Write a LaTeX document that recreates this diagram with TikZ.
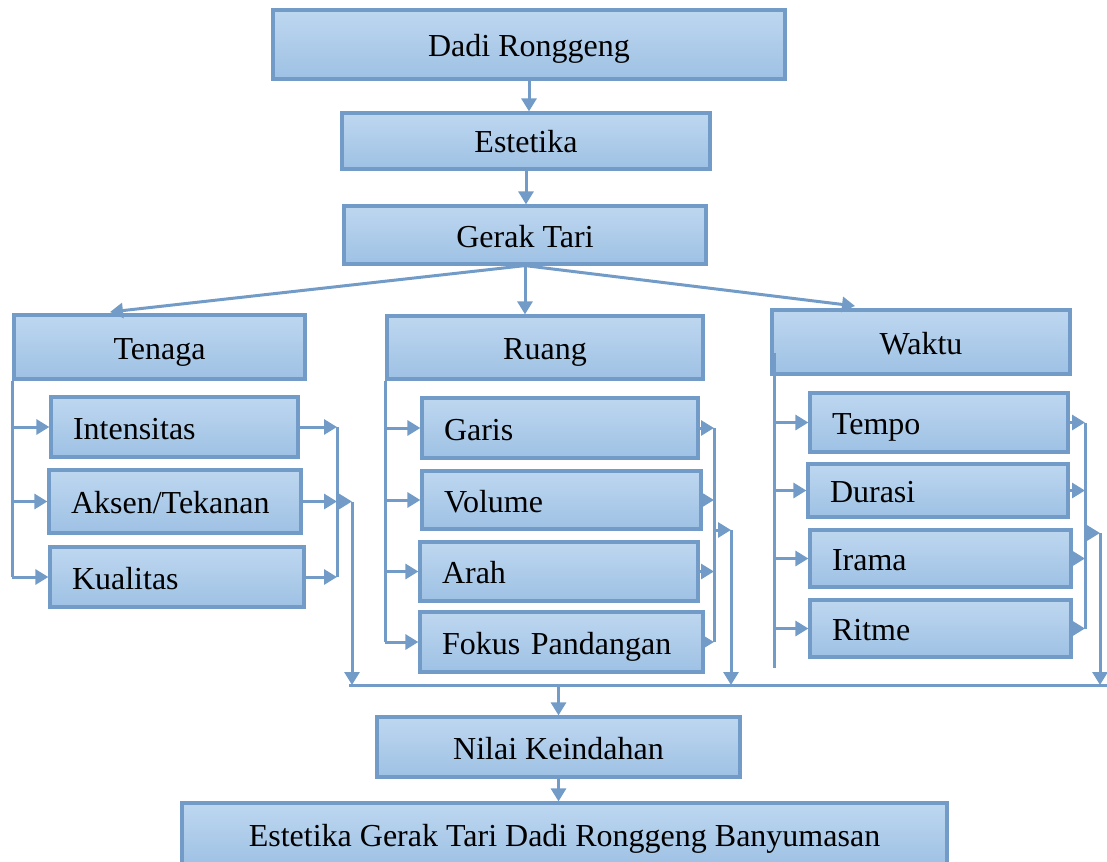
\documentclass[tikz,border=0pt]{standalone}
\usepackage{fontspec}
\setmainfont{Liberation Serif}
\usetikzlibrary{arrows.meta,calc}
\definecolor{boxtop}{RGB}{190,215,240}
\definecolor{boxbot}{RGB}{158,193,228}
\definecolor{lc}{RGB}{114,156,199}
\begin{document}
\begin{tikzpicture}[x=1pt,y=-1pt,
  box/.style={draw=lc, line width=3.2pt, top color=boxtop, bottom color=boxbot,
    font=\fontsize{32}{37}\selectfont, text height=24pt, text depth=0pt, inner ysep=3pt},
  head/.style={box, align=center},
  leaf/.style={box, align=left, inner xsep=22pt},
  ln/.style={draw=lc, line width=3pt},
  arr/.style={ln, -{Triangle[length=13pt,width=15pt]}}]
\useasboundingbox (0,0) rectangle (1107,861);
% top chain
\node[head, minimum width=512pt, minimum height=69pt] (dadi) at (529,44.5) {Dadi Ronggeng};
\node[head, minimum width=368pt, minimum height=56pt] (estetika) at (526,141) {Estetika};
\node[head, minimum width=362pt, minimum height=58pt] (gerak) at (525,235) {Gerak Tari};
% three categories
\node[head, minimum width=291pt, minimum height=64pt] (tenaga) at (159.5,347) {Tenaga};
\node[head, minimum width=316pt, minimum height=63pt] (ruang) at (545,347.5) {Ruang};
\node[head, minimum width=298pt, minimum height=64pt] (waktu) at (921,342) {Waktu};
% Tenaga items
\node[leaf, text width=203pt, minimum height=60pt] (intens) at (174.5,427) {Intensitas};
\node[leaf, text width=208pt, minimum height=63pt] (aksen) at (175,501.5) {Aksen/Tekanan};
\node[leaf, text width=210pt, minimum height=60pt] (kual) at (177,577) {Kualitas};
% Ruang items
\node[leaf, text width=232pt, minimum height=60pt] (garis) at (560,428) {Garis};
\node[leaf, text width=235pt, minimum height=58pt] (volume) at (561.5,500) {Volume};
\node[leaf, text width=234pt, minimum height=59pt] (arah) at (559,571.5) {Arah};
\node[leaf, text width=239pt, minimum height=60pt] (fokus) at (561.5,642) {Fokus Pandangan};
% Waktu items
\node[leaf, text width=214pt, minimum height=59pt] (tempo) at (939,422.5) {Tempo};
\node[leaf, text width=216pt, minimum height=53pt] (durasi) at (938,490.5) {Durasi};
\node[leaf, text width=217pt, minimum height=57pt] (irama) at (940.5,558.5) {Irama};
\node[leaf, text width=217pt, minimum height=57pt] (ritme) at (940.5,628.5) {Ritme};
% bottom chain
\node[head, minimum width=363pt, minimum height=60pt] (nilai) at (558.5,747) {Nilai Keindahan};
\node[head, minimum width=765pt, minimum height=63pt] (final) at (564.5,834.5) {Estetika Gerak Tari Dadi Ronggeng Banyumasan};
% helper coordinates
\coordinate (tentip) at (110,312);
\coordinate (waktip) at (855,306);
\coordinate (tc) at (337,0);
\coordinate (td) at (352,0);
\coordinate (rc) at (714,0);
\coordinate (rmid) at (714,530);
\coordinate (rj) at (731,530);
\coordinate (wc) at (1085,0);
\coordinate (wmid) at (1085,533);
\coordinate (wj) at (1100,533);
\coordinate (wtop) at (774,353);
\coordinate (wbot) at (774,668);
\coordinate (busL) at (349,685);
\coordinate (busR) at (1107,685);
% top connectors
\draw[arr] (dadi.south) -- (dadi.south |- estetika.north);
\draw[arr] (estetika.south) -- (estetika.south |- gerak.north);
\draw[arr] (gerak.south) -- (tentip);
\draw[arr] (gerak.south) -- (gerak.south |- ruang.north);
\draw[arr] (gerak.south) -- (waktip);
% Tenaga branches
\draw[ln] (tenaga.south west) -- (tenaga.south west |- kual.west);
\draw[arr] (tenaga.south west |- intens.west) -- (intens.west);
\draw[arr] (tenaga.south west |- aksen.west) -- (aksen.west);
\draw[arr] (tenaga.south west |- kual.west) -- (kual.west);
\draw[arr] (intens.east) -- (intens.east -| tc);
\draw[arr] (aksen.east) -- (aksen.east -| tc);
\draw[arr] (kual.east) -- (kual.east -| tc);
\draw[ln] (tc |- intens.east) -- (tc |- kual.east);
\draw[arr] (tc |- aksen.east) -- (td |- aksen.east);
\draw[arr] (td |- aksen.east) -- (td |- busL);
% Ruang branches
\draw[ln] (ruang.south west) -- (ruang.south west |- fokus.west);
\draw[arr] (ruang.south west |- garis.west) -- (garis.west);
\draw[arr] (ruang.south west |- volume.west) -- (volume.west);
\draw[arr] (ruang.south west |- arah.west) -- (arah.west);
\draw[arr] (ruang.south west |- fokus.west) -- (fokus.west);
\draw[arr] (garis.east) -- (garis.east -| rc);
\draw[arr] (volume.east) -- (volume.east -| rc);
\draw[arr] (arah.east) -- (arah.east -| rc);
\draw[arr] (fokus.east) -- (fokus.east -| rc);
\draw[ln] (rc |- garis.east) -- (rc |- fokus.east);
\draw[arr] (rmid) -- (rj);
\draw[arr] (rj) -- (rj |- busL);
% Waktu branches
\draw[ln] (wtop) -- (wbot);
\draw[arr] (wtop |- tempo.west) -- (tempo.west);
\draw[arr] (wtop |- durasi.west) -- (durasi.west);
\draw[arr] (wtop |- irama.west) -- (irama.west);
\draw[arr] (wtop |- ritme.west) -- (ritme.west);
\draw[arr] (tempo.east) -- (tempo.east -| wc);
\draw[arr] (durasi.east) -- (durasi.east -| wc);
\draw[arr] (irama.east) -- (irama.east -| wc);
\draw[arr] (ritme.east) -- (ritme.east -| wc);
\draw[ln] (wc |- tempo.east) -- (wc |- ritme.east);
\draw[arr] (wmid) -- (wj);
\draw[arr] (wj) -- (wj |- busL);
% bus and bottom
\draw[ln] (busL) -- (busR);
\draw[arr] (nilai.north |- busL) -- (nilai.north);
\draw[arr] (nilai.south) -- (nilai.south |- final.north);
\end{tikzpicture}
\end{document}
